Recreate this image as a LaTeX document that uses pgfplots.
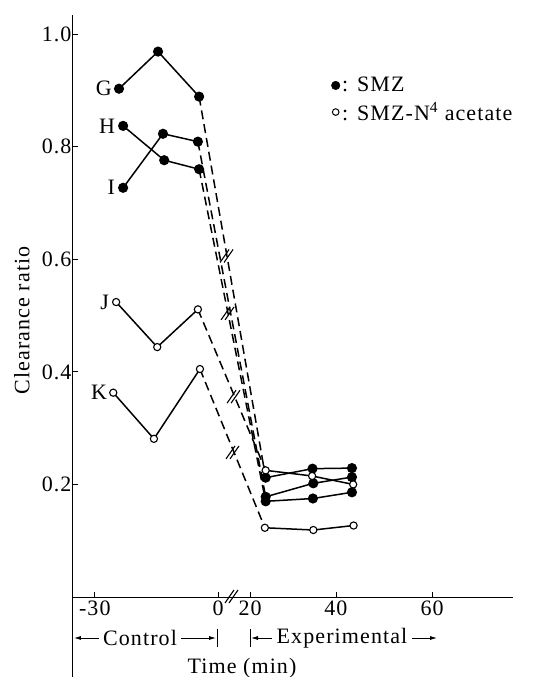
\documentclass[border=0pt]{standalone}
\usepackage{fontspec}
\setmainfont{Liberation Serif}[LetterSpace=5]
\usepackage{pgfplots}
\pgfplotsset{compat=1.18}
\usetikzlibrary{arrows.meta}
\newcommand\brk[2]{%
  \draw[line width=1.1pt] (axis cs:#1,#2) +(-7pt,-6pt) -- +(2pt,7pt);
  \draw[line width=1.1pt] (axis cs:#1,#2) +(-3pt,-6pt) -- +(6pt,7pt);}
\begin{document}
\begin{tikzpicture}[font=\fontsize{22}{26}\selectfont]
\useasboundingbox (-73pt,-80pt) rectangle (466pt,597pt);
\begin{axis}[
  scale only axis, width=440pt, height=582pt,
  xmin=-35.3, xmax=71.8, ymin=0, ymax=1.034,
  axis x line=bottom, axis y line=left,
  axis line style={-, line width=1pt},
  xtick={-30,0,7.8,28.7,52.1}, xticklabels={-30,0,20,40,60},
  ytick={0.2,0.4,0.6,0.8,1.0}, yticklabels={0.2,0.4,0.6,0.8,1.0},
  xtick align=inside, ytick align=inside,
  major tick length=5pt,
  tick style={line width=0.8pt, black},
  yticklabel style={xshift=2pt},
  clip=false,
  ylabel={Clearance ratio},
  ylabel style={at={(axis description cs:-0.116,0.475)}, anchor=center},
  legend cell align=left,
  legend style={draw=none, fill=none, at={(axis cs:27.5,0.927)}, anchor=north west,
    inner sep=0pt, row sep=5pt, font=\fontsize{22}{26}\selectfont},
  solidf/.style={black, line width=1.5pt, mark=*, mark size=4.3pt},
  solido/.style={black, line width=1.5pt, mark=*, mark size=3.6pt, mark options={fill=white, line width=1.1pt}},
  dash/.style={black, line width=1.5pt, dash pattern=on 9pt off 5pt},
]
\addlegendimage{legend image code/.code={\fill (4pt,0pt) circle (4.3pt);}}
\addlegendentry{: SMZ}
\addlegendimage{legend image code/.code={\draw[line width=1pt, fill=white] (4pt,0pt) circle (3.3pt);}}
\addlegendentry{: SMZ-N\textsuperscript{4} acetate}
% dashed connections control -> experimental
\addplot[dash, forget plot] coordinates {(-4.6,0.889) (11.6,0.212)};
\addplot[dash, forget plot] coordinates {(-4.6,0.760) (11.6,0.170)};
\addplot[dash, forget plot] coordinates {(-4.9,0.809) (11.6,0.178)};
\addplot[dash, forget plot] coordinates {(-4.9,0.511) (11.6,0.225)};
\addplot[dash, forget plot] coordinates {(-4.4,0.405) (11.4,0.123)};
% control (SMZ)
\addplot[solidf, forget plot] coordinates {(-24.1,0.903) (-14.6,0.969) (-4.6,0.889)};
\addplot[solidf, forget plot] coordinates {(-23.1,0.837) (-13.1,0.776) (-4.6,0.760)};
\addplot[solidf, forget plot] coordinates {(-23.1,0.727) (-13.4,0.823) (-4.9,0.809)};
% control (acetate)
\addplot[solido, forget plot] coordinates {(-24.8,0.524) (-14.8,0.444) (-4.9,0.511)};
\addplot[solido, forget plot] coordinates {(-25.5,0.363) (-15.6,0.281) (-4.4,0.405)};
% experimental (SMZ)
\addplot[solidf, forget plot] coordinates {(11.6,0.212) (23.0,0.228) (32.6,0.229)};
\addplot[solidf, forget plot] coordinates {(11.6,0.178) (23.2,0.202) (32.6,0.213)};
\addplot[solidf, forget plot] coordinates {(11.6,0.170) (23.1,0.175) (32.6,0.186)};
% experimental (acetate)
\addplot[solido, forget plot] coordinates {(11.6,0.225) (22.9,0.215) (32.9,0.200)};
\addplot[solido, forget plot] coordinates {(11.4,0.123) (23.2,0.119) (33.0,0.127)};
% break marks
\brk{2.2}{0.605}
\brk{2.45}{0.503}
\brk{3.9}{0.355}
\brk{3.65}{0.256}
\brk{3.4}{0}
% curve labels
\node[anchor=east, inner sep=0pt, xshift=-7pt] at (axis cs:-24.1,0.903) {G};
\node[anchor=east, inner sep=0pt, xshift=-8pt] at (axis cs:-23.1,0.837) {H};
\node[anchor=east, inner sep=0pt, xshift=-8pt] at (axis cs:-23.1,0.727) {I};
\node[anchor=east, inner sep=0pt, xshift=-7pt] at (axis cs:-24.8,0.524) {J};
\node[anchor=east, inner sep=0pt, xshift=-6pt] at (axis cs:-25.5,0.363) {K};
\end{axis}
% y axis line extends below
\draw[line width=1pt] (0pt,0pt) -- (0pt,-80pt);
% period annotations
\node (ctl) at (67pt,-41pt) {Control};
\draw[line width=0.8pt, -{Latex[length=7pt,width=4pt]}] ([xshift=-1pt]ctl.west) -- (1pt,-41pt);
\draw[line width=0.8pt, -{Latex[length=7pt,width=4pt]}] ([xshift=1pt]ctl.east) -- (143pt,-41pt);
\draw[line width=0.8pt] (144pt,-32pt) -- (144pt,-50pt);
\node (exp) at (269pt,-41pt) {Experimental};
\draw[line width=0.8pt] (177pt,-32pt) -- (177pt,-50pt);
\draw[line width=0.8pt, -{Latex[length=7pt,width=4pt]}] ([xshift=-1pt]exp.west) -- (178pt,-41pt);
\draw[line width=0.8pt, -{Latex[length=7pt,width=4pt]}] ([xshift=1pt]exp.east) -- (364pt,-41pt);
\node at (169pt,-71pt) {Time (min)};
\end{tikzpicture}
\end{document}
